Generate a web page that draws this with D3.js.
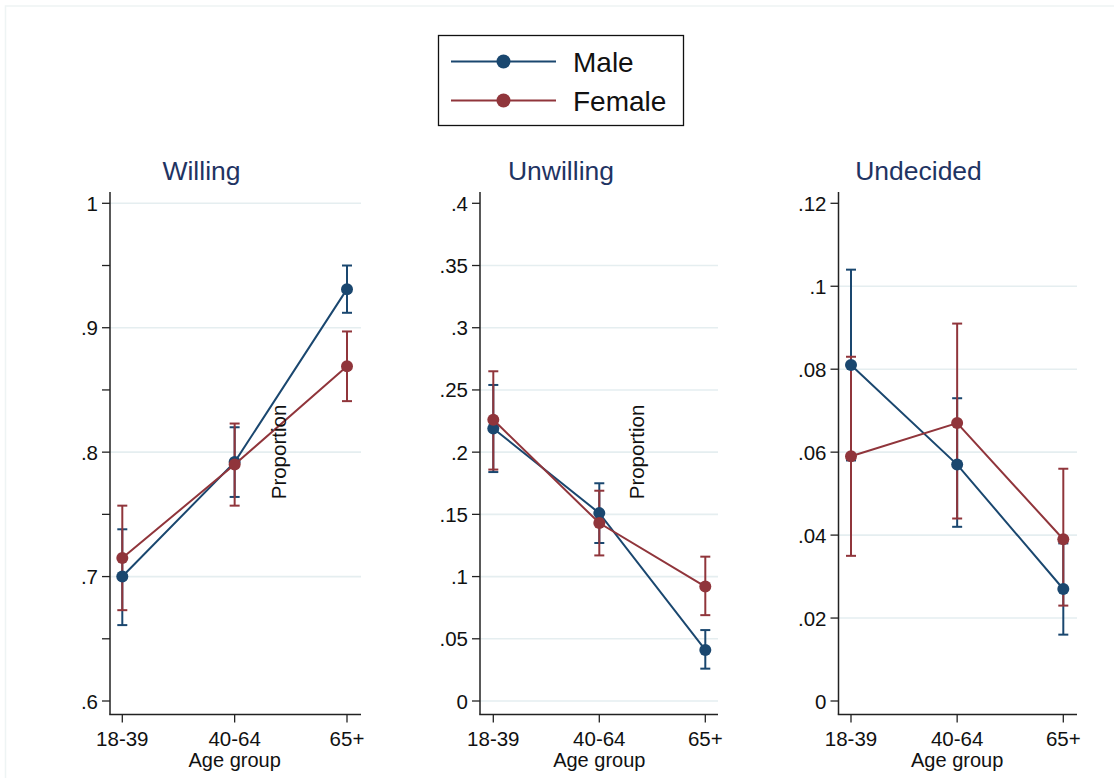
<!DOCTYPE html>
<html lang="en">
  <head>
    <meta charset="utf-8">
    <title>Proportion by age group and sex</title>
    <style>
      body { margin: 0; background: #fff; }
      svg { display: block; font-family: "Liberation Sans", Arial, sans-serif; }
    </style>
  </head>
  <body>
    <div id="viz"></div>
    <script src="https://cdn.jsdelivr.net/npm/d3@7/dist/d3.min.js"></script>
    <script>
      // data
      const ageGroups = ['18-39', '40-64', '65+']
      const panelTitles = ['Willing', 'Unwilling', 'Undecided']
      const seriesNames = ['Male', 'Female']

      const maleWilling = [0.700, 0.792, 0.931]
      const maleWillingLo = [0.661, 0.764, 0.912]
      const maleWillingHi = [0.738, 0.820, 0.950]
      const femaleWilling = [0.715, 0.790, 0.869]
      const femaleWillingLo = [0.673, 0.757, 0.841]
      const femaleWillingHi = [0.757, 0.823, 0.897]

      const maleUnwilling = [0.219, 0.151, 0.041]
      const maleUnwillingLo = [0.184, 0.127, 0.026]
      const maleUnwillingHi = [0.254, 0.175, 0.057]
      const femaleUnwilling = [0.226, 0.143, 0.092]
      const femaleUnwillingLo = [0.186, 0.117, 0.069]
      const femaleUnwillingHi = [0.265, 0.169, 0.116]

      const maleUndecided = [0.081, 0.057, 0.027]
      const maleUndecidedLo = [0.058, 0.042, 0.016]
      const maleUndecidedHi = [0.104, 0.073, 0.038]
      const femaleUndecided = [0.059, 0.067, 0.039]
      const femaleUndecidedLo = [0.035, 0.044, 0.023]
      const femaleUndecidedHi = [0.083, 0.091, 0.056]

      const willingTicks = [0.6, 0.7, 0.8, 0.9, 1]
      const willingMinor = [0.65, 0.75, 0.85, 0.95]
      const willingGrid = [0.7, 0.8, 0.9, 1]
      const unwillingTicks = [0, 0.05, 0.1, 0.15, 0.2, 0.25, 0.3, 0.35, 0.4]
      const unwillingGrid = [0, 0.05, 0.1, 0.15, 0.2, 0.25, 0.3, 0.35]
      const undecidedTicks = [0, 0.02, 0.04, 0.06, 0.08, 0.1, 0.12]
      const undecidedGrid = [0.02, 0.04, 0.06, 0.08, 0.1]

      const width = 1114
      const height = 778
      const colors = { Male: '#1a476f', Female: '#90353b' }
      const fmt = v => v === 0 ? '0' : d3.format('~g')(v).replace(/^0\./, '.')

      const panels = [
        { title: panelTitles[0], ticks: willingTicks, minor: willingMinor, grid: willingGrid,
          left: 110, right: 361, x0: 122.3, x1: 347, titleX: 201.5,
          series: [[maleWilling, maleWillingLo, maleWillingHi], [femaleWilling, femaleWillingLo, femaleWillingHi]] },
        { title: panelTitles[1], ticks: unwillingTicks, minor: [], grid: unwillingGrid,
          left: 480, right: 718, x0: 493.3, x1: 705.3, titleX: 561,
          series: [[maleUnwilling, maleUnwillingLo, maleUnwillingHi], [femaleUnwilling, femaleUnwillingLo, femaleUnwillingHi]] },
        { title: panelTitles[2], ticks: undecidedTicks, minor: [], grid: undecidedGrid,
          left: 838.5, right: 1077, x0: 851, x1: 1063.3, titleX: 918.5,
          series: [[maleUndecided, maleUndecidedLo, maleUndecidedHi], [femaleUndecided, femaleUndecidedLo, femaleUndecidedHi]] }
      ]

      const svg = d3.select('#viz').append('svg').attr('width', width).attr('height', height)

      // faint outer frame
      svg.append('rect').attr('x', 5.5).attr('y', 6).attr('width', width + 20).attr('height', height + 20)
        .attr('fill', 'none').attr('stroke', '#eef4f4').attr('stroke-width', 1.5)

      const axisTop = 192
      const axisBottom = 714.5

      panels.forEach(p => {
        const y = d3.scaleLinear().domain(d3.extent(p.ticks)).range([701, 203.3])
        const x = d3.scalePoint().domain(ageGroups).range([p.x0, p.x1])
        const g = svg.append('g')

        // gridlines
        g.selectAll('line.grid').data(p.grid).enter().append('line')
          .attr('x1', p.left).attr('x2', p.right)
          .attr('y1', d => y(d)).attr('y2', d => y(d))
          .attr('stroke', '#e5eef0').attr('stroke-width', 1.6)

        // y axis
        g.append('line').attr('x1', p.left).attr('x2', p.left).attr('y1', axisTop).attr('y2', axisBottom)
          .attr('stroke', '#222').attr('stroke-width', 1.5)
        g.selectAll('line.ytick').data(p.ticks.concat(p.minor)).enter().append('line')
          .attr('x1', p.left - 8).attr('x2', p.left)
          .attr('y1', d => y(d)).attr('y2', d => y(d))
          .attr('stroke', '#222').attr('stroke-width', 1.3)
        g.selectAll('text.ytick').data(p.ticks).enter().append('text')
          .attr('x', p.left - 12).attr('y', d => y(d) + 7.5)
          .attr('text-anchor', 'end').attr('font-size', 20.5).attr('fill', '#111')
          .text(fmt)

        // x axis
        g.append('line').attr('x1', p.left - 0.75).attr('x2', p.right).attr('y1', axisBottom).attr('y2', axisBottom)
          .attr('stroke', '#222').attr('stroke-width', 1.5)
        g.selectAll('line.xtick').data(ageGroups).enter().append('line')
          .attr('x1', d => x(d)).attr('x2', d => x(d))
          .attr('y1', axisBottom).attr('y2', axisBottom + 8)
          .attr('stroke', '#222').attr('stroke-width', 1.3)
        g.selectAll('text.xtick').data(ageGroups).enter().append('text')
          .attr('x', d => x(d)).attr('y', 746)
          .attr('text-anchor', 'middle').attr('font-size', 20.5).attr('fill', '#111')
          .text(d => d)
        g.append('text').attr('x', x(ageGroups[1])).attr('y', 767)
          .attr('text-anchor', 'middle').attr('font-size', 20).attr('fill', '#111')
          .text('Age group')

        // title
        g.append('text').attr('x', p.titleX).attr('y', 180)
          .attr('text-anchor', 'middle').attr('font-size', 26.5).attr('fill', '#1f3463')
          .text(p.title)

        // confidence intervals
        p.series.forEach((s, si) => {
          const c = colors[seriesNames[si]]
          const ci = ageGroups.map((a, i) => ({ a, lo: s[1][i], hi: s[2][i] }))
          const eg = g.append('g').attr('stroke', c).attr('stroke-width', 2)
          eg.selectAll('line.bar').data(ci).enter().append('line')
            .attr('x1', d => x(d.a)).attr('x2', d => x(d.a))
            .attr('y1', d => y(d.lo)).attr('y2', d => y(d.hi))
          eg.selectAll('line.capHi').data(ci).enter().append('line')
            .attr('x1', d => x(d.a) - 5).attr('x2', d => x(d.a) + 5)
            .attr('y1', d => y(d.hi)).attr('y2', d => y(d.hi))
          eg.selectAll('line.capLo').data(ci).enter().append('line')
            .attr('x1', d => x(d.a) - 5).attr('x2', d => x(d.a) + 5)
            .attr('y1', d => y(d.lo)).attr('y2', d => y(d.lo))
        })

        // connected estimates
        p.series.forEach((s, si) => {
          const c = colors[seriesNames[si]]
          const pts = ageGroups.map((a, i) => ({ a, v: s[0][i] }))
          const line = d3.line().x(d => x(d.a)).y(d => y(d.v))
          g.append('path').datum(pts).attr('d', line)
            .attr('fill', 'none').attr('stroke', c).attr('stroke-width', 2)
          g.selectAll(null).data(pts).enter().append('circle')
            .attr('cx', d => x(d.a)).attr('cy', d => y(d.v)).attr('r', 6)
            .attr('fill', c)
        })
      })

      // stray y titles of the combined graphs
      const yTitleX = [286, 643.5]
      yTitleX.forEach(xp => {
        svg.append('text').attr('transform', `translate(${xp},452) rotate(-90)`)
          .attr('text-anchor', 'middle').attr('font-size', 20.5).attr('fill', '#111')
          .text('Proportion')
      })

      // legend
      const legend = svg.append('g')
      legend.append('rect').attr('x', 438.5).attr('y', 35.5).attr('width', 245).attr('height', 90)
        .attr('fill', '#fff').attr('stroke', '#111').attr('stroke-width', 1.3)
      const legendY = d3.scalePoint().domain(seriesNames).range([61.5, 100.5])
      seriesNames.forEach(n => {
        legend.append('line').attr('x1', 451).attr('x2', 556)
          .attr('y1', legendY(n)).attr('y2', legendY(n))
          .attr('stroke', colors[n]).attr('stroke-width', 2)
        legend.append('circle').attr('cx', 503.5).attr('cy', legendY(n)).attr('r', 7)
          .attr('fill', colors[n])
        legend.append('text').attr('x', 573).attr('y', legendY(n) + 10)
          .attr('font-size', 28).attr('fill', '#111')
          .text(n)
      })
    </script>
  </body>
</html>
